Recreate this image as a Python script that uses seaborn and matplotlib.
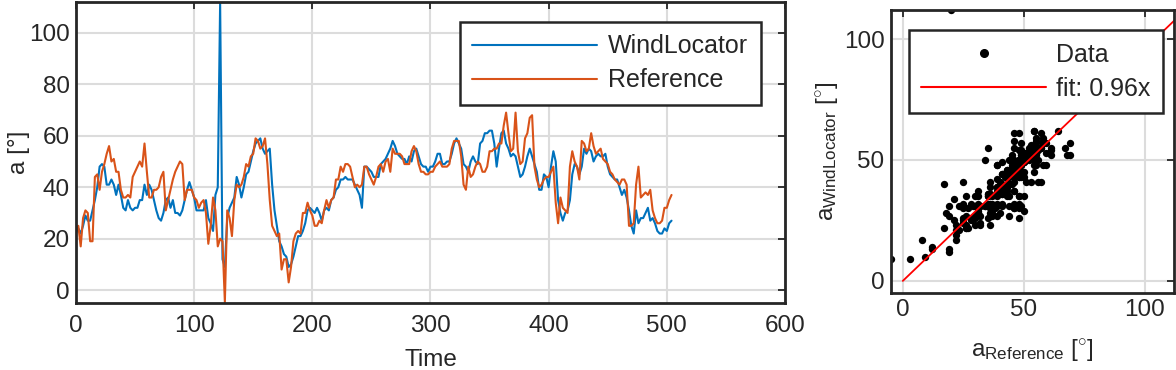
import numpy as np
import pandas as pd
import seaborn as sns
import matplotlib
matplotlib.use("Agg")
import matplotlib.pyplot as plt
from matplotlib.lines import Line2D

time_step = 2
reference = [22, 25, 17, 28, 31, 30, 19, 19, 44, 45,
             39, 46, 49, 53, 56, 50, 51, 46, 46, 39,
             36, 36, 37, 36, 44, 46, 48, 50, 48, 57,
             46, 36, 36, 39, 39, 40, 44, 46, 31, 35,
             39, 43, 46, 48, 50, 49, 35, 39, 39, 39,
             36, 35, 32, 34, 35, 30, 18, 25, 36, 31,
             17, 20, 19, -4.7, 31, 28, 21, 35, 41, 40,
             41, 44, 49, 48, 52, 53, 59, 58, 55, 56,
             59, 49, 35, 25, 23, 21, 22, 8, 12, 12,
             3, 9, 19, 22, 23, 22, 30, 30, 34, 31,
             29, 25, 25, 27, 26, 31, 35, 32, 35, 36,
             43, 43, 48, 46, 49, 49, 48, 44, 40, 41,
             40, 41, 48, 48, 45, 43, 41, 44, 48, 49,
             46, 50, 51, 46, 55, 53, 53, 53, 52, 49,
             49, 49, 54, 56, 54, 49, 46, 46, 45, 45,
             46, 46, 48, 49, 50, 48, 48, 48, 49, 55,
             58, 58, 58, 52, 41, 39, 48, 44, 45, 48,
             50, 49, 46, 46, 48, 54, 54, 55, 55, 57,
             57, 64, 69, 61, 54, 55, 69, 54, 49, 50,
             59, 61, 67, 68, 48, 43, 40, 41, 43, 44,
             44, 46, 48, 34, 26, 36, 32, 31, 30, 48,
             54, 50, 48, 43, 58, 57, 54, 55, 61, 56,
             53, 54, 55, 51, 50, 49, 46, 45, 43, 42,
             41, 43, 43, 41, 25, 25, 26, 41, 48, 36,
             37, 38, 37, 39, 31, 28, 26, 26, 27, 32,
             32, 35, 37]
windlocator = [23, 24, 22, 25, 29, 27, 27, 31, 35, 40,
               48, 49, 48, 41, 41, 43, 41, 37, 41, 37,
               32, 31, 35, 32, 31, 32, 32, 35, 35, 41,
               37, 41, 39, 35, 31, 28, 27, 30, 35, 36,
               32, 35, 30, 30, 29, 31, 35, 39, 42, 39,
               36, 31, 31, 31, 31, 35, 28, 26, 23, 37,
               40, 112, 12, 9, 28, 32, 34, 36, 44, 41,
               36, 40, 45, 46, 50, 54, 57, 58, 59, 55,
               53, 54, 55, 41, 31, 25, 19, 17, 14, 13,
               9, 10, 13, 17, 21, 21, 23, 26, 31, 32,
               31, 30, 32, 30, 27, 31, 32, 31, 35, 36,
               39, 40, 43, 43, 44, 43, 43, 43, 41, 39,
               37, 32, 48, 48, 47, 46, 44, 44, 44, 49,
               50, 51, 53, 55, 58, 56, 53, 52, 51, 51,
               49, 52, 50, 54, 55, 52, 49, 48, 48, 46,
               48, 48, 50, 53, 53, 49, 49, 50, 50, 53,
               57, 59, 57, 55, 49, 48, 46, 50, 52, 50,
               49, 57, 58, 61, 61, 62, 62, 57, 48, 55,
               61, 62, 57, 55, 52, 53, 52, 48, 44, 45,
               48, 52, 55, 52, 49, 46, 39, 39, 45, 44,
               40, 48, 54, 50, 35, 30, 27, 30, 31, 35,
               45, 49, 48, 45, 48, 55, 53, 55, 54, 50,
               52, 53, 52, 52, 53, 48, 45, 44, 43, 43,
               40, 37, 39, 36, 31, 25, 22, 31, 26, 28,
               28, 30, 32, 27, 28, 26, 23, 22, 22, 24,
               23, 26, 27]
fit_slope = 0.96

time = np.arange(len(reference)) * time_step
n = len(time)
df = pd.DataFrame({
    "Time": np.concatenate([time, time]),
    "a": windlocator + reference,
    "Sensor": ["WindLocator"] * n + ["Reference"] * n,
})
sc = pd.DataFrame({"ref": reference, "wl": windlocator})

sns.set_style("white")
plt.rcParams["font.family"] = ["Liberation Sans", "DejaVu Sans"]
plt.rcParams["mathtext.fontset"] = "custom"
plt.rcParams["mathtext.rm"] = "Liberation Sans"
plt.rcParams["mathtext.it"] = "Liberation Sans:italic"

dark = "#262626"
gridc = "#dcdcdc"
fs = 17.5
lfs = 18
pal = {"WindLocator": "#0072BD", "Reference": "#D95319"}

fig = plt.figure(figsize=(11.76, 3.7), dpi=100)
ax1 = fig.add_axes([0.0646, 0.1811, 0.6029, 0.8135])
ax2 = fig.add_axes([0.7574, 0.2081, 0.2409, 0.7649])

sns.lineplot(data=df, x="Time", y="a", hue="Sensor", palette=pal,
             estimator=None, sort=False, lw=1.5, legend=False, ax=ax1)
ax1.set_xlim(0, 600)
ax1.set_ylim(-5, 112)
ax1.set_xticks(range(0, 601, 100))
ax1.set_yticks(range(0, 101, 20))
ax1.set_xlabel("Time", fontsize=fs, color=dark, labelpad=8)
ax1.set_ylabel("a [°]", fontsize=fs, color=dark, labelpad=-1)
h1 = [Line2D([], [], color=pal[k], lw=1.5) for k in ["WindLocator", "Reference"]]
leg1 = ax1.legend(h1, ["WindLocator", "Reference"], loc="upper right",
                  bbox_to_anchor=(0.966, 0.934), borderaxespad=0,
                  fontsize=lfs, handlelength=5.0, handletextpad=0.44,
                  labelspacing=0.4, borderpad=0.5,
                  fancybox=False, framealpha=1, edgecolor=dark)
leg1.get_frame().set_linewidth(1.8)

sns.scatterplot(data=sc, x="ref", y="wl", color="black", s=28, linewidth=0, ax=ax2)
fit_x = np.array([0, 120])
ax2.plot(fit_x, fit_slope * fit_x, color="red", lw=1.3)
ax2.set_xlim(-5, 112)
ax2.set_ylim(-5, 112)
ax2.set_xticks([0, 50, 100])
ax2.set_yticks([0, 50, 100])
ax2.set_xlabel(r"a$_{\mathrm{Reference}}$ [$^{\circ}$]", fontsize=fs, color=dark, labelpad=12)
ax2.set_ylabel(r"a$_{\mathrm{WindLocator}}$ [$^{\circ}$]", fontsize=fs, color=dark, labelpad=3)
h2 = [Line2D([], [], color="black", marker="o", ms=5.5, ls="none"),
      Line2D([], [], color="red", lw=1.5)]
leg2 = ax2.legend(h2, ["Data", f"fit: {fit_slope:.2f}x"], loc="upper right",
                  bbox_to_anchor=(0.961, 0.929), borderaxespad=0,
                  fontsize=lfs, handlelength=5.0, handletextpad=0.4, numpoints=1,
                  labelspacing=0.4, borderpad=0.5,
                  fancybox=False, framealpha=1, edgecolor=dark)
leg2.get_frame().set_linewidth(1.8)

for ax in (ax1, ax2):
    ax.grid(True, color=gridc, lw=1.5)
    ax.set_axisbelow(True)
    for s in ax.spines.values():
        s.set_color(dark)
        s.set_linewidth(2)
    ax.tick_params(direction="in", length=5, width=1.3, top=True, right=True,
                   labelsize=fs, colors=dark, labelcolor=dark)
    ax.tick_params(axis="y", pad=4.5)
ax1.tick_params(axis="x", pad=9)
ax2.tick_params(axis="x", pad=4)

fig.savefig("out.png", dpi=100)
